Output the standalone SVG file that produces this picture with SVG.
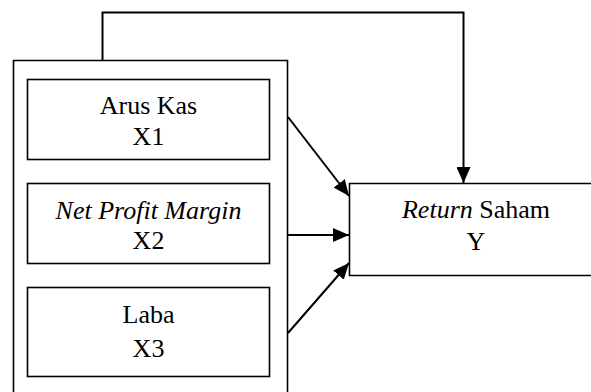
<svg xmlns="http://www.w3.org/2000/svg" width="591" height="392" viewBox="0 0 591 392">
<style>
.box{fill:#fff;stroke:#000;stroke-width:1.6}
.t{font-family:"Liberation Serif","Times New Roman",serif;font-size:26px;fill:#000;text-anchor:middle}
.i{font-style:italic}
.c{fill:none;stroke:#000;stroke-width:2}
</style>
<defs>
<marker id="ah" markerWidth="16" markerHeight="14" refX="16" refY="7" orient="auto" markerUnits="userSpaceOnUse">
<path d="M0,0 L16,7 L0,14 Z" fill="#000"/>
</marker>
</defs>
<rect x="0" y="0" width="591" height="392" fill="#fff"/>
<g id="outer">
<path class="box" d="M13.5,393 L13.5,60.5 L287.5,60.5 L287.5,393"/>
</g>
<g id="x1">
<rect class="box" x="27.5" y="79.5" width="242" height="80"/>
<text class="t" x="148.5" y="114">Arus Kas</text>
<text class="t" x="148.5" y="145">X1</text>
</g>
<g id="x2">
<rect class="box" x="27.5" y="183.5" width="242" height="80"/>
<text class="t i" x="148.5" y="219">Net Profit Margin</text>
<text class="t" x="148.5" y="249">X2</text>
</g>
<g id="x3">
<rect class="box" x="27.5" y="287.5" width="242" height="89"/>
<text class="t" x="148.5" y="323">Laba</text>
<text class="t" x="148.5" y="357">X3</text>
</g>
<g id="y">
<path class="box" d="M593,183.5 L349.5,183.5 L349.5,275.5 L593,275.5"/>
<text class="t" x="476" y="218"><tspan class="i">Return</tspan> Saham</text>
<text class="t" x="476" y="250">Y</text>
</g>
<g id="connectors">
<path class="c" d="M102.5,60 L102.5,12.5 L463.5,12.5 L463.5,183" marker-end="url(#ah)"/>
<path class="c" d="M288,117 L349,196" marker-end="url(#ah)"/>
<path class="c" d="M288,235 L349,235" marker-end="url(#ah)"/>
<path class="c" d="M288,333 L349,263" marker-end="url(#ah)"/>
</g>
</svg>
